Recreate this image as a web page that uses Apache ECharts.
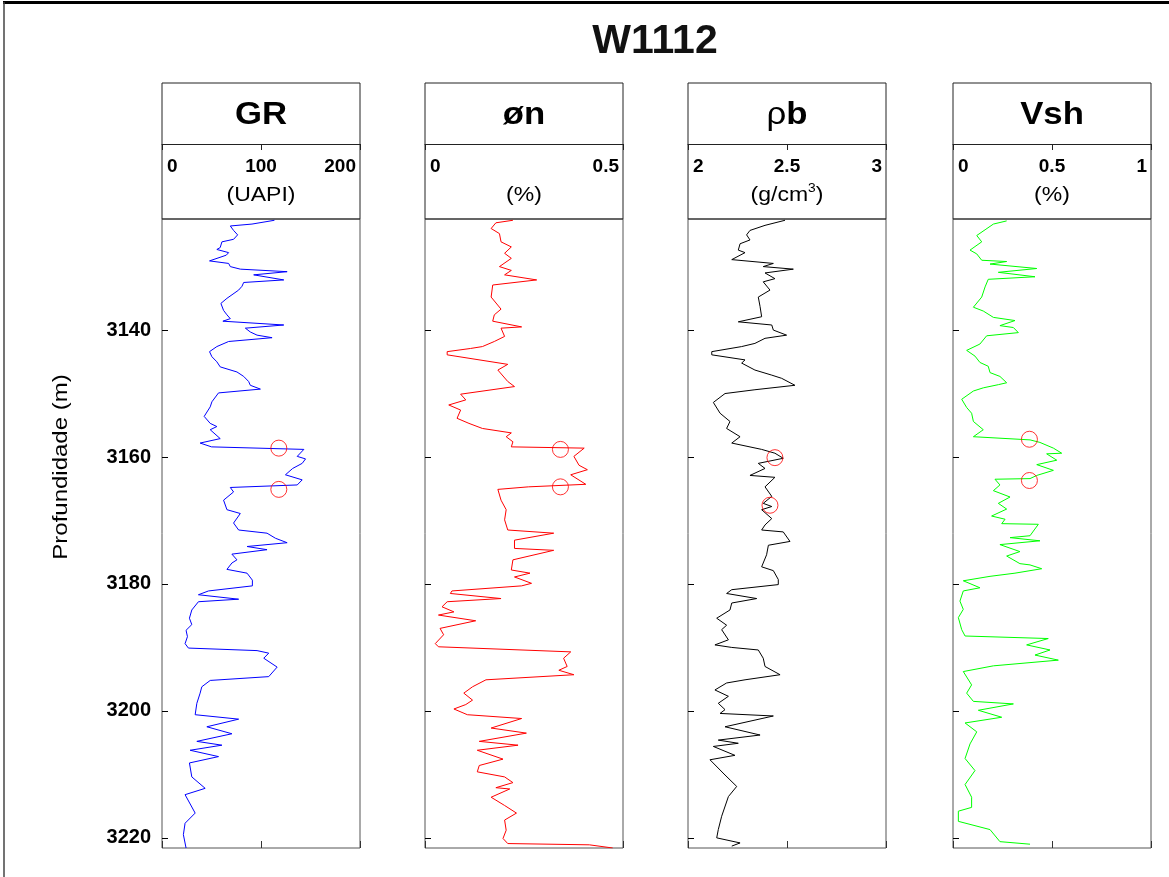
<!DOCTYPE html>
<html>
<head>
<meta charset="utf-8">
<script src="https://cdn.jsdelivr.net/npm/echarts@6/dist/echarts.min.js"></script>
<style>
html,body{margin:0;padding:0;background:#fff;}
#chart{width:1169px;height:877px;}
</style>
</head>
<body>
<div id="chart"></div>
<script>
// ---------------- DATA ----------------
const wellName = 'W1112';
const depthTicks = [3140, 3160, 3180, 3200, 3220];
const depthMin = 3122.5;
const depthMax = 3221.6;

// [depth (m), value]
const grLog = [
[3122.7,113.6],[3123.3,90.9],[3123.6,69.0],[3124.3,72.3],[3125.0,76.4],[3125.7,72.3],[3126.1,60.5],[3127.0,58.8],[3127.3,55.4],[3127.8,67.3],
[3128.2,64.9],[3129.1,48.0],[3129.5,67.3],[3130.0,69.0],[3130.4,79.1],[3130.8,126.4],[3131.3,92.6],[3132.1,123.0],[3132.5,82.5],[3133.1,80.8],
[3133.7,77.4],[3135.0,65.6],[3135.8,59.5],[3136.9,62.2],[3137.6,65.6],[3138.2,69.0],[3138.6,61.5],[3139.2,123.0],[3139.7,84.2],[3140.3,89.2],
[3140.8,96.0],[3141.2,111.2],[3141.8,67.3],[3142.6,55.4],[3143.4,48.0],[3144.2,50.4],[3145.0,55.4],[3145.8,58.8],[3146.6,75.7],[3147.3,82.5],
[3148.1,87.5],[3148.7,89.2],[3149.3,99.4],[3149.9,57.1],[3151.3,50.4],[3152.1,48.7],[3153.6,42.6],[3154.7,48.7],[3155.2,55.4],[3155.7,48.7],
[3157.1,58.8],[3157.8,38.5],[3158.4,50.0],[3158.8,143.3],[3159.9,136.6],[3160.3,145.0],[3161.0,141.6],[3161.8,132.0],[3162.8,124.7],[3163.6,141.6],
[3164.4,136.6],[3164.8,69.0],[3165.5,72.3],[3166.8,62.2],[3168.3,65.6],[3168.9,79.1],[3170.4,72.3],[3171.5,77.4],[3172.0,106.1],[3172.8,114.6],
[3173.5,126.4],[3174.1,85.9],[3174.6,106.1],[3175.3,70.6],[3176.2,75.7],[3176.7,70.6],[3177.7,65.6],[3178.3,85.9],[3179.4,91.3],[3180.3,91.3],
[3181.1,47.0],[3181.7,36.8],[3182.4,77.4],[3182.8,36.8],[3184.1,30.1],[3185.4,27.7],[3186.4,30.1],[3187.3,24.3],[3188.3,25.7],[3189.4,23.3],
[3190.1,26.7],[3190.5,96.0],[3190.9,107.8],[3191.7,102.8],[3193.1,116.3],[3194.6,107.8],[3195.2,48.7],[3196.2,40.2],[3197.2,38.5],[3198.8,35.2],
[3200.6,33.5],[3201.3,77.4],[3202.5,45.3],[3203.6,70.6],[3204.8,35.2],[3205.4,60.5],[3206.2,28.4],[3207.2,57.1],[3208.2,27.7],[3210.4,30.1],
[3212.2,43.6],[3213.2,23.3],[3216.1,33.5],[3217.7,23.3],[3219.5,21.6],[3221.6,24.3]
];
const phiLog = [
[3122.7,0.222],[3123.1,0.179],[3124.0,0.167],[3124.8,0.188],[3126.1,0.192],[3126.9,0.218],[3127.9,0.201],[3128.7,0.218],[3130.0,0.188],[3130.6,0.218],
[3131.3,0.201],[3132.1,0.282],[3132.9,0.171],[3134.8,0.167],[3136.7,0.192],[3137.6,0.175],[3138.6,0.171],[3139.5,0.244],[3139.7,0.192],[3141.0,0.201],
[3141.8,0.175],[3142.6,0.145],[3142.9,0.115],[3143.4,0.056],[3143.9,0.056],[3145.4,0.209],[3146.3,0.184],[3148.1,0.209],[3148.9,0.226],[3150.1,0.090],
[3151.0,0.103],[3151.8,0.060],[3152.6,0.090],[3153.9,0.081],[3154.7,0.111],[3155.5,0.145],[3156.2,0.218],[3156.8,0.205],[3157.6,0.222],[3158.4,0.218],
[3158.6,0.402],[3159.9,0.376],[3161.3,0.389],[3162.0,0.410],[3162.8,0.368],[3164.3,0.406],[3164.7,0.261],[3165.1,0.184],[3166.8,0.192],[3168.3,0.205],
[3169.9,0.201],[3171.5,0.209],[3172.0,0.325],[3173.1,0.226],[3174.4,0.226],[3174.7,0.325],[3176.2,0.222],[3177.8,0.218],[3178.3,0.265],[3178.9,0.226],
[3179.9,0.269],[3180.3,0.244],[3181.1,0.068],[3181.5,0.064],[3182.3,0.192],[3182.8,0.056],[3183.6,0.043],[3184.4,0.073],[3184.9,0.034],[3185.8,0.128],
[3187.0,0.038],[3188.0,0.047],[3189.4,0.026],[3189.9,0.034],[3190.7,0.368],[3191.7,0.350],[3193.0,0.359],[3193.6,0.338],[3194.3,0.376],[3195.1,0.154],
[3196.2,0.120],[3197.2,0.098],[3198.3,0.120],[3199.0,0.103],[3199.7,0.073],[3200.6,0.107],[3201.2,0.244],[3202.7,0.167],[3203.5,0.256],[3204.8,0.137],
[3205.4,0.235],[3206.2,0.132],[3207.6,0.197],[3208.6,0.137],[3209.6,0.132],[3210.4,0.201],[3211.3,0.222],[3212.1,0.179],[3212.3,0.214],[3213.6,0.167],
[3214.9,0.201],[3216.1,0.231],[3217.2,0.201],[3218.8,0.205],[3220.1,0.197],[3220.9,0.209],[3221.1,0.415],[3221.6,0.474]
];
const rhobLog = [
[3122.7,2.490],[3123.5,2.389],[3124.3,2.313],[3125.0,2.296],[3125.8,2.313],[3126.4,2.263],[3127.4,2.254],[3127.8,2.288],[3128.9,2.221],[3129.5,2.431],
[3130.0,2.380],[3130.4,2.532],[3131.0,2.389],[3131.9,2.439],[3132.4,2.380],[3133.7,2.414],[3134.8,2.355],[3136.3,2.364],[3137.9,2.372],[3138.7,2.254],
[3139.2,2.423],[3140.0,2.431],[3140.8,2.498],[3141.3,2.389],[3142.1,2.338],[3142.6,2.271],[3143.4,2.120],[3143.9,2.120],[3144.7,2.288],[3145.2,2.271],
[3146.3,2.338],[3147.1,2.423],[3147.6,2.473],[3148.7,2.540],[3149.4,2.338],[3150.0,2.187],[3151.4,2.128],[3153.1,2.162],[3154.4,2.212],[3155.5,2.195],
[3156.8,2.263],[3157.8,2.221],[3158.8,2.372],[3159.4,2.439],[3160.2,2.481],[3161.0,2.355],[3161.8,2.389],[3162.9,2.313],[3163.2,2.439],[3164.7,2.389],
[3166.2,2.423],[3167.3,2.380],[3167.8,2.423],[3168.3,2.372],[3169.7,2.423],[3170.7,2.389],[3171.5,2.372],[3171.8,2.481],[3173.3,2.515],[3173.9,2.406],
[3175.4,2.397],[3177.3,2.372],[3177.9,2.431],[3179.3,2.456],[3180.1,2.456],[3180.9,2.221],[3181.5,2.195],[3182.3,2.347],[3183.0,2.221],[3184.1,2.212],
[3185.4,2.145],[3186.5,2.195],[3187.2,2.170],[3188.8,2.204],[3189.6,2.136],[3190.0,2.221],[3190.4,2.355],[3191.7,2.380],[3193.0,2.389],[3194.3,2.465],
[3195.1,2.288],[3195.6,2.195],[3196.7,2.136],[3197.7,2.204],[3198.8,2.153],[3199.8,2.187],[3200.4,2.162],[3200.8,2.431],[3202.5,2.187],[3203.8,2.364],
[3204.6,2.153],[3205.1,2.254],[3205.6,2.128],[3207.0,2.237],[3207.7,2.111],[3210.1,2.187],[3211.9,2.246],[3213.5,2.204],[3216.6,2.170],[3218.7,2.153],
[3220.0,2.145],[3220.8,2.263],[3221.3,2.221]
];
const vshLog = [
[3122.8,0.271],[3123.3,0.204],[3124.2,0.162],[3125.1,0.120],[3126.1,0.145],[3127.4,0.086],[3128.0,0.120],[3129.0,0.145],[3129.2,0.271],[3129.6,0.187],
[3130.3,0.423],[3130.9,0.229],[3131.6,0.414],[3132.0,0.178],[3133.2,0.162],[3134.8,0.145],[3136.4,0.103],[3137.0,0.153],[3138.0,0.204],[3138.5,0.313],
[3139.3,0.237],[3139.6,0.305],[3140.4,0.330],[3140.9,0.170],[3142.2,0.136],[3143.2,0.069],[3144.1,0.111],[3145.1,0.136],[3145.7,0.178],[3146.7,0.187],
[3147.3,0.237],[3148.3,0.271],[3148.6,0.229],[3149.1,0.153],[3149.6,0.103],[3150.9,0.044],[3152.2,0.069],[3153.1,0.094],[3154.4,0.103],[3155.7,0.153],
[3156.8,0.103],[3157.3,0.389],[3157.7,0.439],[3158.6,0.507],[3159.4,0.549],[3159.5,0.473],[3160.5,0.524],[3161.2,0.423],[3162.1,0.507],[3162.9,0.423],
[3163.4,0.389],[3163.5,0.212],[3164.4,0.237],[3165.3,0.204],[3166.3,0.288],[3167.3,0.229],[3168.2,0.271],[3169.3,0.195],[3169.8,0.263],[3170.5,0.246],
[3170.6,0.431],[3172.4,0.389],[3172.7,0.288],[3173.2,0.439],[3173.8,0.237],[3174.9,0.338],[3175.6,0.271],[3176.8,0.338],[3177.0,0.389],[3177.6,0.448],
[3178.3,0.313],[3178.8,0.187],[3179.5,0.052],[3180.6,0.136],[3181.1,0.052],[3182.7,0.035],[3184.0,0.052],[3185.3,0.027],[3187.2,0.044],[3188.2,0.061],
[3188.6,0.481],[3189.6,0.372],[3190.4,0.490],[3191.2,0.414],[3192.0,0.532],[3192.9,0.204],[3193.8,0.052],[3195.9,0.094],[3197.2,0.069],[3198.5,0.103],
[3198.9,0.305],[3199.9,0.128],[3201.0,0.246],[3201.9,0.061],[3203.3,0.120],[3205.2,0.086],[3207.5,0.061],[3209.4,0.111],[3211.6,0.061],[3213.6,0.094],
[3215.2,0.094],[3215.8,0.027],[3217.4,0.027],[3218.7,0.187],[3220.6,0.237],[3221.0,0.389]
];
// highlighted points [depth, value]
const grMarks = [[3158.6,118],[3165.1,118]];
const phiMarks = [[3158.8,0.342],[3164.7,0.342]];
const rhobMarks = [[3160.1,2.439],[3167.6,2.414]];
const vshMarks = [[3157.2,0.386],[3163.7,0.386]];

const trackTitles = ['{b|GR}', '{b|øn}', '{n|ρ}{b|b}', '{b|Vsh}'];
const trackUnits = ['(UAPI)', '(%)', '(g/cm{s|3})', '(%)'];
const trackMin = [0, 0, 2, 0];
const trackMax = [200, 0.5, 3, 1];
const trackInterval = [100, 0.5, 0.5, 0.5];
const trackColors = ['#0000ff', '#ff0000', '#000000', '#00ff00'];
const yAxisName = 'Profundidade (m)';

// ---------------- LAYOUT ----------------
const logs = [grLog, phiLog, rhobLog, vshLog];
const marks = [grMarks, phiMarks, rhobMarks, vshMarks];
const lefts = [162, 425, 688, 953];
const W = 198, TOP = 219, BOTTOM = 848, HEAD_TOP = 83, DIVIDER = 144;
const FONT = '"Liberation Sans", Arial, sans-serif';
const TICK_FS = 19;

const grids = [], xAxes = [], yAxes = [], series = [], graphics = [];
lefts.forEach((L, i) => {
  grids.push({left: L, top: TOP, width: W, height: BOTTOM - TOP, show: true,
    borderColor: '#555', borderWidth: 1, backgroundColor: 'transparent'});
  // bottom axis (data axis)
  xAxes.push({type: 'value', gridIndex: i, min: trackMin[i], max: trackMax[i], interval: trackInterval[i],
    position: 'bottom', axisLine: {show: false},
    axisTick: {show: true, inside: true, length: 7, lineStyle: {color: '#333'}},
    axisLabel: {show: false}, splitLine: {show: false}});
  // header scale axis
  xAxes.push({type: 'value', gridIndex: i, min: trackMin[i], max: trackMax[i], interval: trackInterval[i],
    position: 'top', offset: TOP - DIVIDER,
    axisLine: {show: true, lineStyle: {color: '#222', width: 1}},
    axisTick: {show: true, inside: true, length: 6, lineStyle: {color: '#222'}},
    axisLabel: {show: true, inside: true, margin: 13, color: '#000', fontFamily: FONT, fontWeight: 'bold', fontSize: TICK_FS,
      alignMinLabel: 'left', alignMaxLabel: 'right',
      formatter: (v) => {
        if (v === trackMin[i]) return '{l|' + v + '}';
        if (v === trackMax[i]) return '{r|' + v + '}';
        return '{c|' + v + '}';
      },
      rich: {
        l: {padding: [0, 0, 0, 5], fontWeight: 'bold', fontSize: TICK_FS, fontFamily: FONT},
        r: {padding: [0, 4, 0, 0], fontWeight: 'bold', fontSize: TICK_FS, fontFamily: FONT},
        c: {fontWeight: 'bold', fontSize: TICK_FS, fontFamily: FONT}
      }},
    splitLine: {show: false}});
  yAxes.push({type: 'value', gridIndex: i, inverse: true, min: depthMin, max: depthMax,
    axisLine: {show: false},
    axisTick: {show: true, inside: true, length: 6, customValues: depthTicks, lineStyle: {color: '#000'}},
    axisLabel: {show: i === 0, customValues: depthTicks, margin: 11, color: '#000',
      fontFamily: FONT, fontWeight: 'bold', fontSize: 20, formatter: (v) => String(v)},
    splitLine: {show: false}});
  series.push({type: 'line', xAxisIndex: 2 * i, yAxisIndex: i,
    data: logs[i].map(p => [p[1], p[0]]), showSymbol: false, symbol: 'none',
    lineStyle: {color: trackColors[i], width: 1}, animation: false, clip: true, silent: true});
  series.push({type: 'scatter', xAxisIndex: 2 * i, yAxisIndex: i,
    data: marks[i].map(p => [p[1], p[0]]), symbol: 'circle', symbolSize: 16,
    itemStyle: {color: 'rgba(0,0,0,0)', borderColor: '#ff0000', borderWidth: 1},
    animation: false, silent: true, z: 5});
  // header box
  graphics.push({type: 'rect', shape: {x: L, y: HEAD_TOP, width: W, height: TOP - HEAD_TOP},
    style: {fill: 'none', stroke: '#222', lineWidth: 1}, silent: true});
  graphics.push({type: 'text', x: L + W / 2, y: (HEAD_TOP + DIVIDER) / 2 + 2, scaleX: 1.12,
    style: {text: trackTitles[i], align: 'center', verticalAlign: 'middle',
      rich: {b: {fontFamily: FONT, fontWeight: 'bold', fontSize: 31, fill: '#000'},
             n: {fontFamily: FONT, fontWeight: 'normal', fontSize: 31, fill: '#000'}}}, silent: true});
  graphics.push({type: 'text', x: L + W / 2, y: 195, scaleX: 1.15,
    style: {text: trackUnits[i], align: 'center', verticalAlign: 'middle',
      rich: {s: {fontFamily: FONT, fontSize: 12, fill: '#000', padding: [0, 0, 12, 0]}},
      font: 'normal 20px ' + FONT, fill: '#000'}, silent: true});
});

graphics.push({type: 'text', x: 655, y: 42,
  style: {text: wellName, align: 'center', verticalAlign: 'middle', font: 'bold 41px ' + FONT, fill: '#111'}, silent: true});
graphics.push({type: 'text', x: 61, y: 467, rotation: Math.PI / 2, scaleX: 1.2,
  style: {text: yAxisName, align: 'center', verticalAlign: 'middle', font: 'normal 20px ' + FONT, fill: '#000'}, silent: true});
graphics.push({type: 'line', shape: {x1: 3, y1: 2.5, x2: 1169, y2: 2.5}, style: {stroke: '#000', lineWidth: 3}, silent: true});
graphics.push({type: 'line', shape: {x1: 4, y1: 2, x2: 4, y2: 877}, style: {stroke: '#444', lineWidth: 1.5}, silent: true});

const chart = echarts.init(document.getElementById('chart'), null, {renderer: 'canvas'});
chart.setOption({
  backgroundColor: '#fff',
  animation: false,
  grid: grids, xAxis: xAxes, yAxis: yAxes, series: series, graphic: graphics
});
</script>
</body>
</html>
